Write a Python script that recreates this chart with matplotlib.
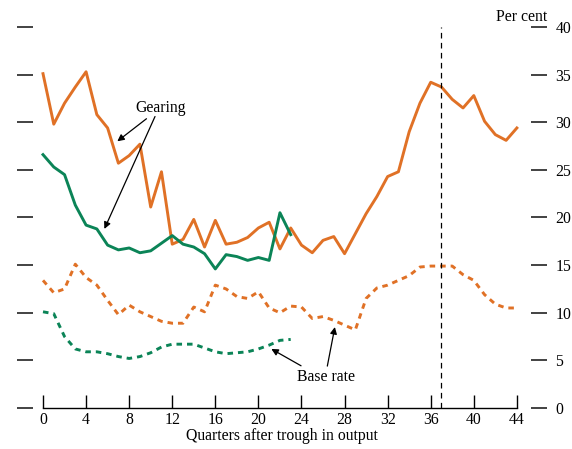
import numpy as np
import matplotlib
matplotlib.use('Agg')
import matplotlib.pyplot as plt

# quarters after trough in output
quarters_long = np.arange(0, 45)
quarters_short = np.arange(0, 24)

# gearing, later episode (orange, 0-44)
gearing_orange = [35.1, 29.8, 32.0, 33.7, 35.3, 30.8, 29.4, 25.7, 26.5, 27.7,
                  21.1, 24.8, 17.2, 17.7, 19.8, 16.9, 19.7, 17.2, 17.4, 17.9,
                  18.9, 19.5, 16.7, 18.9, 17.1, 16.3, 17.6, 18.0, 16.2, 18.3,
                  20.4, 22.2, 24.3, 24.8, 29.0, 32.0, 34.2, 33.7, 32.4, 31.5,
                  32.8, 30.1, 28.7, 28.1, 29.4]
# gearing, earlier episode (green, 0-23)
gearing_green = [26.6, 25.3, 24.5, 21.3, 19.2, 18.8, 17.1, 16.6, 16.8, 16.3,
                 16.5, 17.3, 18.1, 17.2, 16.9, 16.2, 14.6, 16.1, 15.9, 15.5,
                 15.8, 15.5, 20.5, 18.2]
# base rate (orange, 0-44)
base_orange = [13.4, 12.1, 12.5, 15.1, 13.7, 12.9, 11.3, 9.8, 10.8, 10.1,
               9.6, 9.1, 8.9, 8.9, 10.6, 10.1, 12.9, 12.5, 11.7, 11.5,
               12.2, 10.5, 10.0, 10.7, 10.6, 9.4, 9.6, 9.2, 8.7, 8.2,
               11.5, 12.6, 12.9, 13.4, 13.9, 14.8, 14.9, 14.9, 14.9, 14.0,
               13.4, 11.9, 10.9, 10.5, 10.5]
# base rate (green, 0-23)
base_green = [10.1, 9.9, 7.5, 6.2, 5.9, 5.9, 5.7, 5.4, 5.2, 5.4,
              5.8, 6.4, 6.7, 6.7, 6.7, 6.3, 5.9, 5.7, 5.8, 5.9,
              6.2, 6.6, 7.1, 7.2]

xticks = list(range(0, 45, 4))
yticks = list(range(0, 45, 5))
marker_quarter = 37

ORANGE = '#E07126'
GREEN = '#0B8457'

plt.rcParams['font.family'] = ['Liberation Serif', 'DejaVu Serif']
plt.rcParams['font.size'] = 11.3

fig = plt.figure(figsize=(5.72, 4.49), dpi=100)
ax = fig.add_axes([17/572, 41/449, 530/572, 381/449])
ax.set_xlim(-2.414, 46.797)
ax.set_ylim(0, 40)

ax.plot(quarters_long, gearing_orange, color=ORANGE, lw=2.1)
ax.plot(quarters_short, gearing_green, color=GREEN, lw=2.1)
ax.plot(quarters_long, base_orange, color=ORANGE, lw=2.1, dashes=(1.9, 1.7))
ax.plot(quarters_short, base_green, color=GREEN, lw=2.1, dashes=(1.9, 1.7))
ax.axvline(marker_quarter, color='black', lw=0.9, dashes=(4.5, 3.5))

for side in ['top', 'left', 'right']:
    ax.spines[side].set_visible(False)
ax.spines['bottom'].set_bounds(0, 44)
ax.spines['bottom'].set_linewidth(1.0)

ax.set_xticks(xticks)
ax.tick_params(axis='x', direction='in', length=9.4, width=1.0, pad=3)
ax.set_yticks(yticks)
ax.tick_params(axis='y', direction='in', length=11.5, width=1.2, color='#222222',
               left=True, right=True, labelleft=False, labelright=True, pad=6)
ax.set_xlabel('Quarters after trough in output', labelpad=0)
ax.text(46.8, 41.1, 'Per cent', ha='right', va='center')

arrow = dict(arrowstyle='-|>', color='black', lw=0.9, mutation_scale=10, shrinkA=0, shrinkB=0)
ax.annotate('Gearing', xy=(6.9, 28.0), xytext=(10.9, 31.5), ha='center', va='center',
            arrowprops=arrow)
ax.annotate('', xy=(5.7, 18.8), xytext=(10.4, 30.6), arrowprops=arrow)
ax.annotate('Base rate', xy=(21.2, 6.2), xytext=(26.3, 3.3), ha='center', va='center',
            arrowprops=dict(arrow, relpos=(0.15, 1.0)))
ax.annotate('', xy=(27.1, 8.5), xytext=(26.4, 4.4), arrowprops=arrow)

fig.savefig('out.png', dpi=100)
